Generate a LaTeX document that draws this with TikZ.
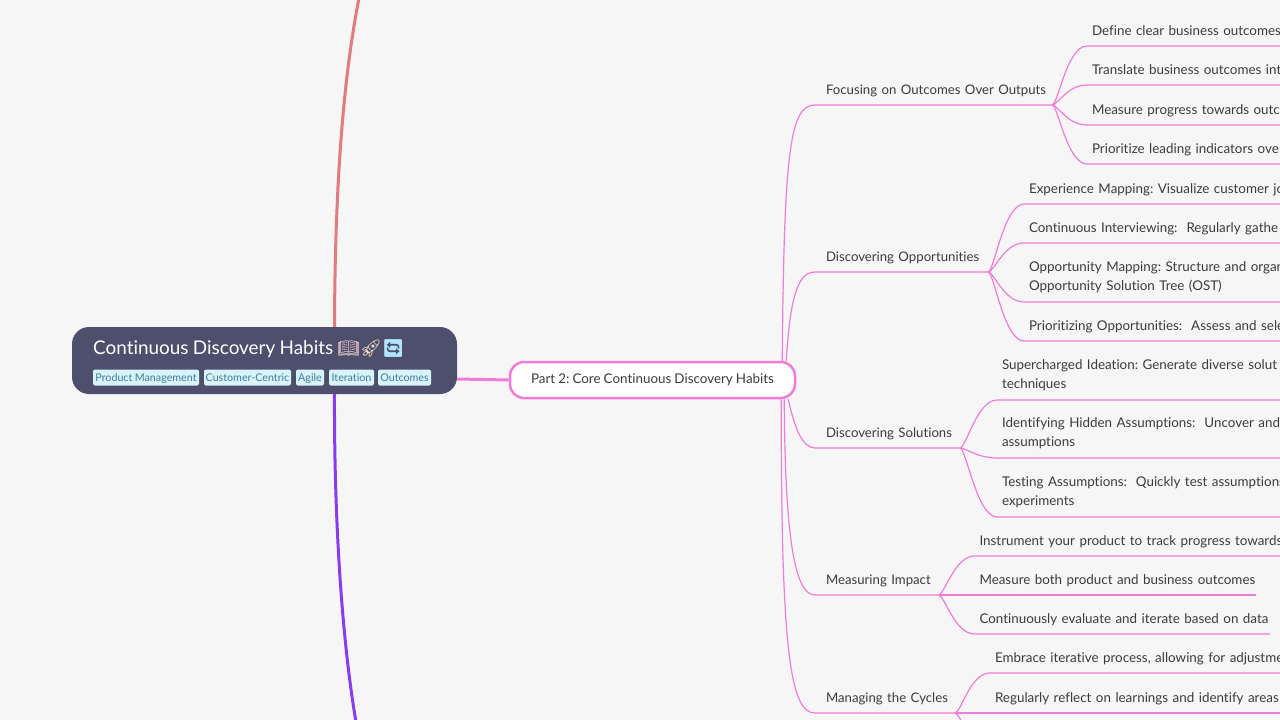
\documentclass[tikz,border=0pt]{standalone}
\usepackage{fontspec}
\setmainfont{Lato}[Ligatures=NoCommon,WordSpace=0.9]
\newfontfamily\emojifont{Noto Emoji}
\definecolor{pagebg}{HTML}{F6F6F6}
\definecolor{linkpink}{HTML}{F27BD8}
\definecolor{linkred}{HTML}{E27B7B}
\definecolor{linkviolet}{HTML}{8A3BEF}
\definecolor{rootfill}{HTML}{4D4F6D}
\definecolor{tagfill}{HTML}{D8F3F9}
\definecolor{tagtext}{HTML}{3E7F9B}
\definecolor{labeltext}{HTML}{3C3C3C}
\tikzset{
  rootbox/.style={fill=rootfill,rounded corners=17pt,minimum width=385pt,minimum height=67pt,inner sep=0pt},
  partbox/.style={draw=linkpink,line width=2.5pt,fill=white,rounded corners=14pt,minimum width=285pt,minimum height=36pt,inner sep=0pt,text=labeltext,font=\fontsize{13.4}{16}\selectfont},
  tagbox/.style={fill=tagfill,text=tagtext,rounded corners=2pt,minimum height=16pt,inner sep=0pt,text height=9pt,text depth=1.5pt,font=\fontsize{10.7}{13}\selectfont},
  branch/.style={anchor=south west,inner xsep=11pt,inner ysep=0pt,outer sep=0pt,text=labeltext,align=left,text height=10pt,text depth=10.8pt,font=\fontsize{13.2}{18.7}\selectfont},
  leaf/.style={anchor=south west,inner xsep=5pt,inner ysep=0pt,outer sep=0pt,text=labeltext,align=left,text height=10pt,text depth=10.8pt,font=\fontsize{13.4}{18.7}\selectfont},
  twoleaf/.style={leaf,text depth=30.5pt},
  link/.style={draw=linkpink,line width=1.2pt},
  mainlink/.style={line width=3pt}
}
\begin{document}
\frenchspacing
\begin{tikzpicture}[x=1pt,y=-1pt]
\path [use as bounding box,fill=pagebg] (0,0) rectangle (1280,720);
\clip (0,0) rectangle (1280,720);
\coordinate (topend) at (359,-2);
\coordinate (bottomend) at (356,722);
\node [rootbox] (root) at (264.5,360.5) {};
\draw [mainlink,draw=linkred] ([xshift=70pt]root.north) .. controls (335,170) and (345,70) .. (topend);
\draw [mainlink,draw=linkviolet] ([xshift=70pt]root.south) .. controls (334,520) and (342,640) .. (bottomend);
\node [anchor=base west,inner sep=0pt,text=white,font=\fontsize{18.9}{24}\selectfont] (title) at (93,354) {Continuous Discovery Habits {\emojifont\fontsize{17.5}{24}\selectfont\textcolor{white!85!red}{📖}\textcolor{white!80!orange}{🚀}\textcolor{cyan!30!white}{🔄}}};
\node [tagbox,minimum width=106pt] (tagproduct) at (146,377.5) {Product Management};
\node [tagbox,minimum width=87pt] (tagcustomer) at (247.5,377.5) {Customer-Centric};
\node [tagbox,minimum width=28pt] (tagagile) at (310,377.5) {Agile};
\node [tagbox,minimum width=45pt] (tagiteration) at (351.5,377.5) {Iteration};
\node [tagbox,minimum width=53pt] (tagoutcomes) at (404.5,377.5) {Outcomes};
\node [partbox] (part) at (652.5,380) {Part 2: Core Continuous Discovery Habits};
\draw [mainlink,draw=linkpink] (root.east |- 0,379) -- (part.west);
\node [branch,text width=215pt] (focus) at (815,105) {\mbox{Focusing on Outcomes Over Outputs}};
\node [branch,text width=151pt] (opps) at (815,272) {\mbox{Discovering Opportunities}};
\node [branch,text width=123pt] (sols) at (815,448) {\mbox{Discovering Solutions}};
\node [branch,text width=101.5pt] (impact) at (815,595) {\mbox{Measuring Impact}};
\node [branch,text width=118pt] (cycles) at (815,713) {\mbox{Managing the Cycles}};
\draw [link] ([xshift=-14pt]part.north east) .. controls (784,150) and (790,105) .. (focus.south west) -- (focus.south east);
\draw [link] ([xshift=-10pt]part.north east) .. controls (790,300) and (797,272) .. (opps.south west) -- (opps.south east);
\draw [link] ([xshift=-8pt]part.south east) .. controls (795,430) and (803,448) .. (sols.south west) -- (sols.south east);
\draw [link] ([xshift=-12pt]part.south east) .. controls (785,540) and (795,595) .. (impact.south west) -- (impact.south east);
\draw [link] ([xshift=-15pt]part.south east) .. controls (781,650) and (790,713) .. (cycles.south west) -- (cycles.south east);
\node [leaf,text width=400pt] (focusa) at (1087,46) {Define clear business outcomes};
\node [leaf,text width=400pt] (focusb) at (1087,85) {Translate business outcomes int};
\node [leaf,text width=400pt] (focusc) at (1087,125) {Measure progress towards outco};
\node [leaf,text width=400pt] (focusd) at (1087,164) {Prioritize leading indicators ove};
\foreach \leafname in {focusa,focusb,focusc,focusd}
  \draw [link] (focus.south east) .. controls +(6,0) and +(-20,0) .. (\leafname.south west) -- (\leafname.south east);
\node [leaf,text width=400pt] (oppsa) at (1024,204) {Experience Mapping: Visualize customer jo};
\node [leaf,text width=400pt] (oppsb) at (1024,243) {Continuous Interviewing:\ \ Regularly gathe};
\node [twoleaf,text width=400pt] (oppsc) at (1024,302) {Opportunity Mapping: Structure and organ\\Opportunity Solution Tree (OST)};
\node [leaf,text width=400pt] (oppsd) at (1024,341) {Prioritizing Opportunities:\ \ Assess and sele};
\foreach \leafname in {oppsa,oppsb,oppsc,oppsd}
  \draw [link] (opps.south east) .. controls +(6,0) and +(-20,0) .. (\leafname.south west) -- (\leafname.south east);
\node [twoleaf,text width=400pt] (solsa) at (997,400) {Supercharged Ideation: Generate diverse solut\\techniques};
\node [twoleaf,text width=400pt] (solsb) at (997,458) {Identifying Hidden Assumptions:\ \ Uncover and\\assumptions};
\node [twoleaf,text width=400pt] (solsc) at (997,517) {Testing Assumptions:\ \ Quickly test assumptions\\experiments};
\foreach \leafname in {solsa,solsb,solsc}
  \draw [link] (sols.south east) .. controls +(6,0) and +(-20,0) .. (\leafname.south west) -- (\leafname.south east);
\node [leaf,text width=400pt] (impacta) at (974.5,556) {Instrument your product to track progress towards};
\node [leaf,text width=271.5pt] (impactb) at (974.5,595) {\mbox{Measure both product and business outcomes}};
\node [leaf,text width=285.5pt] (impactc) at (974.5,634) {\mbox{Continuously evaluate and iterate based on data}};
\foreach \leafname in {impacta,impactb,impactc}
  \draw [link] (impact.south east) .. controls +(6,0) and +(-20,0) .. (\leafname.south west) -- (\leafname.south east);
\node [leaf,text width=400pt] (cyclesa) at (990,673) {Embrace iterative process, allowing for adjustme};
\node [leaf,text width=400pt] (cyclesb) at (990,713) {Regularly reflect on learnings and identify areas};
\coordinate (cyclesc) at (990,752);
\foreach \leafname in {cyclesa,cyclesb}
  \draw [link] (cycles.south east) .. controls +(6,0) and +(-20,0) .. (\leafname.south west) -- (\leafname.south east);
\draw [link] (cycles.south east) .. controls +(6,0) and +(-20,0) .. (cyclesc) -- +(300,0);
\end{tikzpicture}
\end{document}
